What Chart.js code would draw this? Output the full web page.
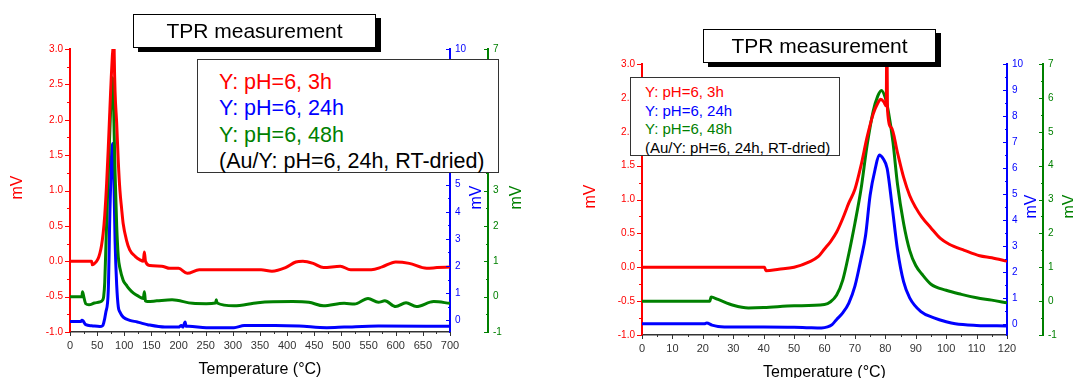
<!DOCTYPE html>
<html>
<head>
<meta charset="utf-8">
<title>TPR measurement</title>
<script src="https://cdn.jsdelivr.net/npm/chart.js@4"></script>
<style>
  body { margin: 0; width: 1073px; height: 378px; overflow: hidden; background: #fff; position: relative;
         font-family: 'Liberation Sans', Arial, sans-serif; }
  canvas { position: absolute; top: 0; }
  .title { position: absolute; background: #fff; border: 1px solid #000; box-shadow: 5px 4px 0 #000;
           box-sizing: border-box; text-align: center; font-size: 21px; line-height: 32px; z-index: 2; }
  .legend { position: absolute; background: #fff; border: 1px solid #333; box-sizing: border-box;
            white-space: nowrap; z-index: 2; }
  .r { color: #ff0000; } .b { color: #0000ff; } .g { color: #008000; } .k { color: #000; }
</style>
</head>
<body>
<canvas id="full" width="540" height="378" style="left:0"></canvas>
<canvas id="zoom" width="545" height="384" style="left:540px"></canvas>

<div class="title" style="left:133px;top:14px;width:243px;height:34px">TPR measurement</div>
<div class="legend" style="left:197px;top:59px;width:302px;height:114px;padding:9px 0 0 21px;font-size:21.5px;line-height:26.3px">
  <div class="r">Y: pH=6, 3h</div>
  <div class="b">Y: pH=6, 24h</div>
  <div class="g">Y: pH=6, 48h</div>
  <div class="k">(Au/Y: pH=6, 24h, RT-dried)</div>
</div>

<div class="title" style="left:703px;top:29px;width:233px;height:34px">TPR measurement</div>
<div class="legend" style="left:630px;top:77px;width:210px;height:79px;padding:5px 0 0 14px;font-size:15px;line-height:18.5px">
  <div class="r">Y: pH=6, 3h</div>
  <div class="b">Y: pH=6, 24h</div>
  <div class="g">Y: pH=6, 48h</div>
  <div class="k">(Au/Y: pH=6, 24h, RT-dried)</div>
</div>

<script>
const RED = '#ff0000';
const BLUE = '#0000ff';
const GREEN = '#008000';

// 0 - 700 C run
const fullRedT = [0, 40, 41, 44, 48, 52, 55, 58, 61, 64, 67.5, 70.5, 73.5, 76, 78, 79.5, 80.5, 81.5, 83, 86,
  89, 92, 95, 98, 104, 110, 120, 129, 135, 137, 139, 147, 169, 184, 200, 216, 238, 283, 315, 352,
  372, 397, 416, 429, 448, 467, 498, 517, 555, 575, 600, 625, 657, 676, 700];
const fullRedV = [0, 0, -0.05, -0.04, -0.01, 0.04, 0.11, 0.22, 0.39, 0.65, 1.1, 1.6, 2.15, 2.6, 2.9, 3.1, 3.6, 2.9, 2.4, 1.95,
  1.4, 1.0, 0.75, 0.53, 0.3, 0.16, 0.07, 0.02, 0.0, 0.13, 0.0, -0.06, -0.07, -0.1, -0.1, -0.17, -0.12, -0.12, -0.12, -0.12,
  -0.14, -0.09, -0.01, 0, -0.03, -0.09, -0.07, -0.12, -0.12, -0.08, -0.01, -0.03, -0.1, -0.09, -0.08];

const fullGreenT = [0, 22, 23, 25, 29, 35, 45, 55, 60, 62, 64, 66.5, 70.5, 75, 78, 79.5, 81, 83, 86, 89,
  92, 98, 105, 110, 117, 125, 135, 137, 139, 143, 160, 188, 226, 251, 268, 269.5, 271, 302, 346, 410,
  440, 467, 505, 524, 549, 568, 580, 600, 619, 638, 670, 700];
const fullGreenV = [0, 0, 0.14, 0.02, -0.2, -0.23, -0.18, -0.15, -0.1, 0.0, 0.4, 1.6, 3.48, 5.35, 6.19, 5.9, 4.9, 3.5, 2.0, 1.12,
  0.8, 0.46, 0.3, 0.2, 0.1, 0.02, -0.05, 0.14, -0.12, -0.14, -0.12, -0.09, -0.19, -0.2, -0.18, -0.09, -0.18, -0.26, -0.17, -0.14,
  -0.16, -0.26, -0.19, -0.21, -0.05, -0.16, -0.12, -0.28, -0.17, -0.28, -0.14, -0.19];

const fullBlueT = [0, 20, 22, 24, 29, 40, 55, 60, 62, 66, 70.5, 73.5, 76, 78.5, 80, 83, 86, 89, 92, 98,
  110, 124, 135, 143, 175, 200, 205, 208, 212, 214, 219, 251, 302, 321, 378, 422, 473, 505, 568, 700];
const fullBlueV = [-0.04, -0.04, 0.0, -0.02, -0.16, -0.2, -0.23, -0.2, -0.1, 0.3, 1.1, 4.0, 5.8, 6.52, 6.0, 2.94, 1.3, 0.49, 0.3, 0.12,
  0.0, -0.06, -0.12, -0.16, -0.25, -0.25, -0.19, -0.25, -0.06, -0.22, -0.22, -0.27, -0.27, -0.19, -0.19, -0.21, -0.27, -0.25, -0.21, -0.22];

// 0 - 120 C close-up
const zoomRedT = [0, 40.3, 40.7, 45, 50, 55, 58, 60, 62, 64, 66, 68, 70, 72, 74, 76, 77.5, 78.5, 79.5, 80.3,
  80.5, 80.7, 82, 84, 86, 88, 90, 92, 95, 98, 101, 106, 111, 115, 120];
const zoomRedV = [0, 0, -0.05, -0.03, 0.0, 0.08, 0.16, 0.27, 0.38, 0.52, 0.72, 0.95, 1.15, 1.5, 1.92, 2.26, 2.42, 2.48, 2.44, 2.38,
  3.6, 2.33, 2.06, 1.69, 1.33, 1.06, 0.88, 0.74, 0.58, 0.43, 0.34, 0.25, 0.17, 0.14, 0.09];

const zoomGreenT = [0, 22.3, 22.7, 25, 30, 35, 40, 50, 60, 62, 64, 66, 68, 70, 72, 74, 76, 77.5, 78.7, 80,
  81, 82.5, 84, 86, 88, 90, 92, 95, 100, 105, 110, 115, 120];
const zoomGreenV = [0, 0, 0.12, 0.05, -0.12, -0.2, -0.19, -0.14, -0.1, -0.02, 0.18, 0.62, 1.4, 2.3, 3.3, 4.6, 5.6, 6.05, 6.22, 6.0,
  5.6, 4.7, 3.45, 2.3, 1.5, 1.05, 0.8, 0.5, 0.32, 0.2, 0.1, 0.03, -0.05];

const zoomBlueT = [0, 20.5, 21.3, 23, 25, 30, 40, 50, 55, 59, 61, 62.5, 64, 66, 68, 70, 72, 73.5, 75, 76.7,
  78, 79.3, 80.6, 82.2, 84, 86, 88, 91.7, 96, 100, 103, 110, 120];
const zoomBlueV = [0, 0, 0.03, -0.05, -0.1, -0.12, -0.12, -0.13, -0.15, -0.16, -0.12, -0.03, 0.17, 0.42, 0.8, 1.45, 2.5, 3.4, 4.95, 5.98,
  6.5, 6.35, 5.98, 4.56, 2.85, 1.62, 1.0, 0.47, 0.23, 0.08, 0.0, -0.06, -0.08];

const onStep = (v, s) => Math.abs(v / s - Math.round(v / s)) < 1e-6;
const pairs = (t, v) => t.map((x, i) => ({ x, y: v[i] }));
// rebuild ticks on whole multiples of step inside the axis range
const stepTicks = (step) => (scale) => {
  const out = [];
  for (let i = Math.ceil(scale.min / step - 1e-9); i * step <= scale.max + 1e-9; i++) {
    out.push({ value: +(i * step).toFixed(6) });
  }
  scale.ticks = out;
};

// origin-style tick marks (major / minor) and left-reading axis titles
const axisDecor = {
  id: 'axisDecor',
  afterDraw(chart, args, opts) {
    const ctx = chart.ctx;
    const area = chart.chartArea;
    ctx.save();
    opts.axes.forEach((a) => {
      const scale = chart.scales[a.id];
      ctx.strokeStyle = a.color;
      ctx.lineWidth = 1;
      scale.ticks.forEach((tick) => {
        const len = onStep(tick.value, a.major) ? 4 : 2;
        const p = Math.round(scale.getPixelForValue(tick.value)) + 0.5;
        ctx.beginPath();
        if (scale.isHorizontal()) {
          ctx.moveTo(p, scale.top);
          ctx.lineTo(p, scale.top + len);
        } else {
          const x0 = scale.position === 'left' ? scale.right - 1 : scale.left;
          ctx.moveTo(x0, p);
          ctx.lineTo(x0 - len, p);
        }
        ctx.stroke();
      });
      if (a.title) {
        const x = scale.position === 'left' ? scale.left + 18 : scale.right - 11;
        const y = (area.top + area.bottom) / 2 + (a.dy || 0);
        ctx.save();
        ctx.translate(x, y);
        ctx.rotate(-Math.PI / 2);
        ctx.fillStyle = a.color;
        ctx.font = "16px 'Liberation Sans', Arial, sans-serif";
        ctx.textAlign = 'center';
        ctx.textBaseline = 'middle';
        ctx.fillText(a.title, 0, 0);
        ctx.restore();
      }
    });
    ctx.restore();
  },
};

const yScale = (pos, min, max, step, major, color, width, fmt) => ({
  type: 'linear',
  position: pos,
  min,
  max,
  afterBuildTicks: stepTicks(step),
  afterFit: (s) => { s.width = width; },
  grid: { display: false, drawTicks: false },
  border: { color, width: 2 },
  ticks: {
    autoSkip: false,
    color,
    padding: pos === 'left' ? 7 : 5,
    font: { size: 10, family: "'Liberation Sans', Arial, sans-serif" },
    callback: (v) => (onStep(v, major) ? fmt(v) : ''),
  },
});

function buildChart(id, cfg) {
  return new Chart(document.getElementById(id), {
    type: 'line',
    data: {
      datasets: [
        { data: pairs(cfg.redT, cfg.redV), borderColor: RED, yAxisID: 'y' },
        { data: pairs(cfg.greenT, cfg.greenV), borderColor: GREEN, yAxisID: 'y3' },
        { data: pairs(cfg.blueT, cfg.blueV), borderColor: BLUE, yAxisID: 'y2' },
      ],
    },
    options: {
      responsive: false,
      animation: false,
      devicePixelRatio: 1,
      datasets: { line: { borderWidth: 3, pointRadius: 0, cubicInterpolationMode: 'monotone', fill: false } },
      layout: { padding: cfg.pad },
      plugins: {
        legend: { display: false },
        tooltip: { enabled: false },
        axisDecor: {
          axes: [
            { id: 'x', color: '#333', major: cfg.xMajor },
            { id: 'y', color: RED, major: 0.5, title: 'mV', dy: -3 },
            { id: 'y2', color: BLUE, major: 1, title: 'mV', dy: 7 },
            { id: 'y3', color: GREEN, major: 1, title: 'mV', dy: 7 },
          ],
        },
      },
      scales: {
        x: {
          type: 'linear',
          min: 0,
          max: cfg.xMax,
          afterBuildTicks: stepTicks(cfg.xMinor),
          afterFit: (s) => { s.height = cfg.xHeight; },
          grid: { display: false, drawTicks: false },
          border: { color: '#333', width: 1.5 },
          ticks: {
            autoSkip: false,
            maxRotation: 0,
            padding: 7,
            color: '#333',
            font: { size: 11, family: "'Liberation Sans', Arial, sans-serif" },
            callback: (v) => (onStep(v, cfg.xMajor) ? String(v) : ''),
          },
          title: {
            display: true,
            text: 'Temperature (°C)',
            color: '#000',
            font: { size: 16, lineHeight: 1, family: "'Liberation Sans', Arial, sans-serif" },
            padding: { top: 0, bottom: cfg.titlePad },
          },
        },
        y: yScale('left', -1, 3, 0.25, 0.5, RED, cfg.yWidth, (v) => v.toFixed(1)),
        y2: yScale('right', -0.43, 10, 0.5, 1, BLUE, cfg.y2Width, (v) => String(Math.round(v))),
        y3: yScale('right', -1, 7, 0.5, 1, GREEN, cfg.y3Width, (v) => String(Math.round(v))),
      },
    },
    plugins: [axisDecor],
  });
}

buildChart('full', {
  redT: fullRedT, redV: fullRedV,
  greenT: fullGreenT, greenV: fullGreenV,
  blueT: fullBlueT, blueV: fullBlueV,
  xMax: 700, xMajor: 50, xMinor: 25,
  pad: { top: 49, left: 0, right: 12, bottom: 0 },
  xHeight: 46, titlePad: 0,
  yWidth: 70, y2Width: 38, y3Width: 40,
});

buildChart('zoom', {
  redT: zoomRedT, redV: zoomRedV,
  greenT: zoomGreenT, greenV: zoomGreenV,
  blueT: zoomBlueT, blueV: zoomBlueV,
  xMax: 120, xMajor: 10, xMinor: 5,
  pad: { top: 64, left: 33, right: 4, bottom: 0 },
  xHeight: 49, titlePad: 3,
  yWidth: 69, y2Width: 36, y3Width: 38,
});
</script>
</body>
</html>
